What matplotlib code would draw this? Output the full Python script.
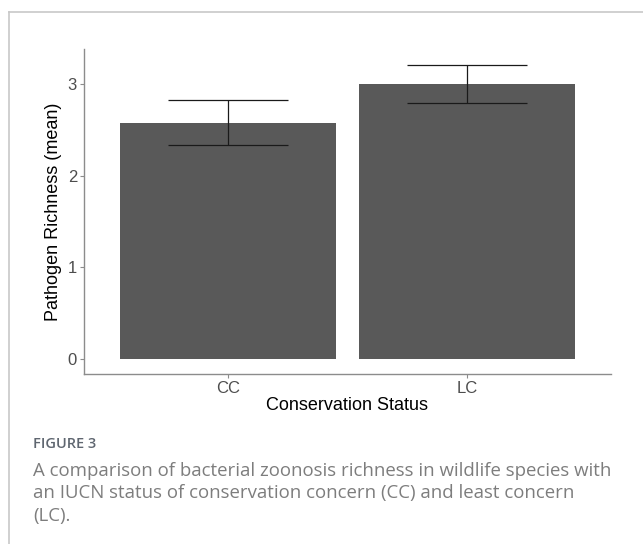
import matplotlib
matplotlib.use("Agg")
import matplotlib.pyplot as plt
from matplotlib.lines import Line2D

# values
status = ["CC", "LC"]
richness_mean = [2.58, 3.005]
richness_err = [0.243, 0.21]

BAR = "#595959"
AXIS = "#8c8c8c"
TICK = "#4d4d4d"
CAPTION = "#7d7d7d"

plt.rcParams["font.family"] = ["Liberation Sans", "DejaVu Sans"]

fig = plt.figure(figsize=(6.43, 5.44), dpi=100, facecolor="white")

# card border (top and left edge)
fig.add_artist(Line2D([9 / 643, 1], [1 - 12 / 544, 1 - 12 / 544], transform=fig.transFigure,
                      color="#c8c8c8", lw=1.2))
fig.add_artist(Line2D([9 / 643, 9 / 643], [0, 1 - 12 / 544], transform=fig.transFigure,
                      color="#c8c8c8", lw=1.2))

ax = fig.add_axes([84 / 643, 1 - 374 / 544, (611 - 84) / 643, (374 - 49) / 544])
x = range(1, len(status) + 1)
ax.bar(x, richness_mean, width=0.9, color=BAR, zorder=1)
ax.errorbar(x, richness_mean, yerr=richness_err, fmt="none", ecolor="#1a1a1a",
            elinewidth=0.9, capsize=0, zorder=2)
for xi, m, e in zip(x, richness_mean, richness_err):
    ax.hlines([m - e, m + e], xi - 0.25, xi + 0.25, color="#1a1a1a", lw=0.9, zorder=2)

ax.set_xlim(0.4, 2.6)
ax.set_ylim(-0.165, 3.385)
ax.set_xticks(list(x))
ax.set_xticklabels(status)
ax.set_yticks([0, 1, 2, 3])
ax.tick_params(labelsize=12, length=3, width=0.8, pad=2)
ax.tick_params(axis="x", colors=AXIS, labelcolor=TICK)
ax.tick_params(axis="y", colors=AXIS, labelcolor=TICK)
for side in ("top", "right"):
    ax.spines[side].set_visible(False)
for side in ("left", "bottom"):
    ax.spines[side].set_color(AXIS)
    ax.spines[side].set_linewidth(1.0)
ax.set_xlabel("Conservation Status", fontsize=13, color="black", labelpad=1)
ax.set_ylabel("Pathogen Richness (mean)", fontsize=13, color="black", labelpad=4)

fig.text(33 / 643, 1 - 444 / 544, "FIGURE 3", fontsize=10.5, color="#5f6670",
         family=["Open Sans", "DejaVu Sans"], fontweight="semibold", va="center")
caption = ("A comparison of bacterial zoonosis richness in wildlife species with\n"
           "an IUCN status of conservation concern (CC) and least concern\n"
           "(LC).")
fig.text(33 / 643, 1 - 462 / 544, caption, fontsize=13.4, color=CAPTION,
         family=["Open Sans", "DejaVu Sans"], va="top", linespacing=1.32)

fig.savefig("out.png", dpi=100, facecolor="white")
